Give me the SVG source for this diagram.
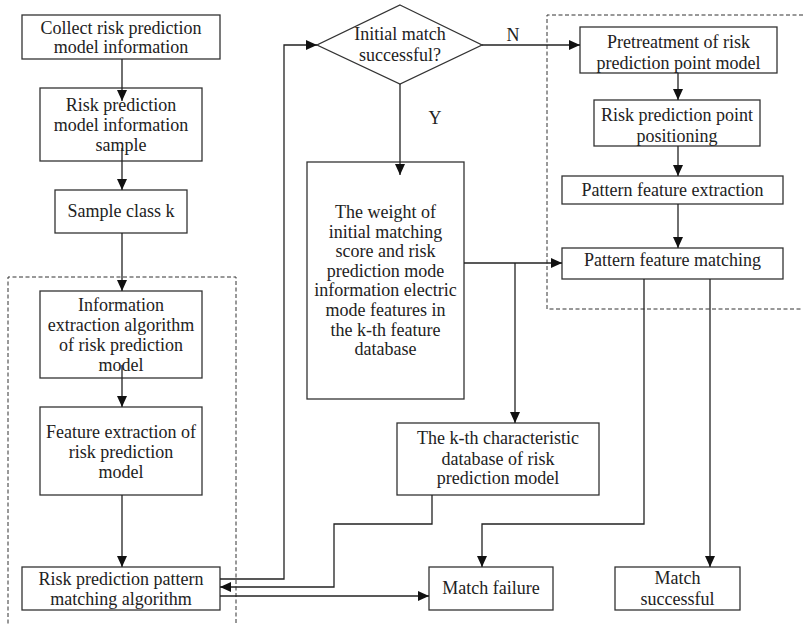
<svg xmlns="http://www.w3.org/2000/svg" width="803" height="624" viewBox="0 0 803 624">
<style>
.box{fill:#fff;stroke:#333;stroke-width:1.3}
.t{font-family:"Liberation Serif","Times New Roman",serif;font-size:18px;fill:#222;text-anchor:middle}
.c{fill:none;stroke:#222;stroke-width:1.3}
.a{marker-end:url(#ah)}
.d{fill:none;stroke:#333;stroke-width:1;stroke-dasharray:4 2.5}
</style>
<defs>
<marker id="ah" markerUnits="userSpaceOnUse" markerWidth="12" markerHeight="10" refX="11" refY="5" orient="auto">
<path d="M0,0 L11,5 L0,10 z" fill="#111"/>
</marker>
</defs>
<rect width="803" height="624" fill="#fff"/>
<g id="regions">
<path class="d" d="M8 630 V277 H236 V630"/>
<path class="d" d="M803 15 H547 V309 H803"/>
</g>
<g id="n1"><rect class="box" x="22" y="15" width="198" height="44"/>
<text class="t" x="121" y="34">Collect risk prediction</text><text class="t" x="121" y="53">model information</text></g>
<g id="n2"><rect class="box" x="40" y="88" width="162" height="73"/>
<text class="t" x="121" y="111">Risk prediction</text><text class="t" x="121" y="131">model information</text><text class="t" x="121" y="151">sample</text></g>
<g id="n3"><rect class="box" x="55" y="190" width="132" height="43"/>
<text class="t" x="121" y="217">Sample class k</text></g>
<g id="n4"><rect class="box" x="40" y="291" width="162" height="87"/>
<text class="t" x="121" y="311">Information</text><text class="t" x="121" y="331">extraction algorithm</text><text class="t" x="121" y="351">of risk prediction</text><text class="t" x="121" y="371">model</text></g>
<g id="n5"><rect class="box" x="40" y="407" width="162" height="88"/>
<text class="t" x="121" y="438">Feature extraction of</text><text class="t" x="121" y="458">risk prediction</text><text class="t" x="121" y="478">model</text></g>
<g id="n6"><rect class="box" x="22" y="567" width="198" height="43"/>
<text class="t" x="121" y="585">Risk prediction pattern</text><text class="t" x="121" y="605">matching algorithm</text></g>
<g id="n7"><polygon class="box" points="400,5 482,45 400,84 317,45"/>
<text class="t" x="400" y="40">Initial match</text><text class="t" x="400" y="61">successful?</text></g>
<g id="n8"><rect class="box" x="307" y="162" width="157" height="237"/>
<text class="t" x="385.5" y="218">The weight of</text><text class="t" x="385.5" y="237.6">initial matching</text><text class="t" x="385.5" y="257.2">score and risk</text><text class="t" x="385.5" y="276.8">prediction mode</text><text class="t" x="385.5" y="296.4">information electric</text><text class="t" x="385.5" y="316">mode features in</text><text class="t" x="385.5" y="335.6">the k-th feature</text><text class="t" x="385.5" y="355.2">database</text></g>
<g id="n9"><rect class="box" x="397" y="423" width="202" height="72"/>
<text class="t" x="498" y="444">The k-th characteristic</text><text class="t" x="498" y="465">database of risk</text><text class="t" x="498" y="484">prediction model</text></g>
<g id="n10"><rect class="box" x="429" y="567" width="124" height="43"/>
<text class="t" x="491" y="594">Match failure</text></g>
<g id="n11"><rect class="box" x="615" y="567" width="125" height="43"/>
<text class="t" x="677.5" y="584">Match</text><text class="t" x="677.5" y="605">successful</text></g>
<g id="n12"><rect class="box" x="580" y="27" width="197" height="46"/>
<text class="t" x="678.5" y="48">Pretreatment of risk</text><text class="t" x="678.5" y="69">prediction point model</text></g>
<g id="n13"><rect class="box" x="594" y="100" width="166" height="46"/>
<text class="t" x="677" y="121">Risk prediction point</text><text class="t" x="677" y="142">positioning</text></g>
<g id="n14"><rect class="box" x="562" y="176" width="221" height="28"/>
<text class="t" x="672.5" y="196">Pattern feature extraction</text></g>
<g id="n15"><rect class="box" x="562" y="248" width="221" height="31"/>
<text class="t" x="672.5" y="266">Pattern feature matching</text></g>
<g id="connectors">
<path class="c a" d="M122 59 V101"/>
<path class="c a" d="M122 148 V190"/>
<path class="c a" d="M122 233 V291"/>
<path class="c a" d="M122 365 V407"/>
<path class="c a" d="M122 495 V567"/>
<path class="c a" d="M220 579 H284 V45 H317"/>
<path class="c a" d="M432 495 V524 H334 V587 H220"/>
<path class="c a" d="M220 596 H429"/>
<path class="c a" d="M400 84 V175"/>
<path class="c a" d="M482 45 H580"/>
<path class="c a" d="M464 263 H562"/>
<path class="c a" d="M515 263 V423"/>
<path class="c a" d="M678 73 V100"/>
<path class="c a" d="M678 146 V176"/>
<path class="c a" d="M678 204 V248"/>
<path class="c a" d="M644 279 V524 H482 V567"/>
<path class="c a" d="M710 279 V567"/>
<text class="t" x="513" y="41">N</text>
<text class="t" x="435" y="124">Y</text>
</g>
</svg>
